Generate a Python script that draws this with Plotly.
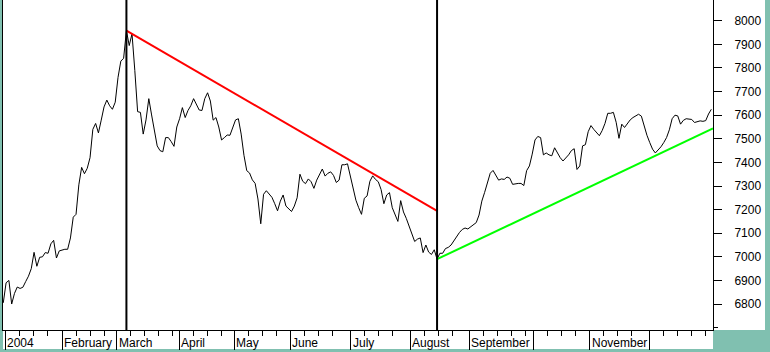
import plotly.graph_objects as go

# ---- data ----
close = [
    6805, 6890, 6900, 6800, 6845, 6872, 6866, 6871, 6895, 6918,
    6950, 7019, 6960, 6998, 7000, 7018, 7015, 7055, 7070, 6995,
    7025, 7030, 7032, 7032, 7080, 7168, 7180, 7305, 7379, 7352,
    7375, 7420, 7540, 7565, 7525, 7579, 7635, 7664, 7640, 7625,
    7655, 7760, 7829, 7841, 7958, 7895, 7945, 7790, 7615, 7612,
    7520, 7580, 7670, 7601, 7532, 7470, 7450, 7445, 7505, 7505,
    7488, 7468, 7550, 7585, 7632, 7590, 7620, 7640, 7670, 7648,
    7622, 7620, 7670, 7695, 7660, 7579, 7590, 7550, 7495, 7505,
    7516, 7515, 7550, 7580, 7585, 7520, 7430, 7365, 7355, 7326,
    7311, 7245, 7140, 7265, 7280, 7268, 7252, 7225, 7195, 7236,
    7262, 7215, 7205, 7192, 7215, 7250, 7350, 7320, 7310, 7330,
    7318, 7290, 7325, 7346, 7372, 7342, 7354, 7360, 7345, 7315,
    7325, 7390, 7390, 7394, 7345, 7290, 7240, 7208, 7180, 7248,
    7258, 7320, 7343, 7328, 7318, 7285, 7225, 7262, 7272, 7208,
    7177, 7150, 7238, 7190, 7163, 7130, 7098, 7065, 7075, 7080,
    7018, 7050, 7020, 7010, 7030, 6990, 7015, 7015, 7035, 7040,
    7050, 7068, 7085, 7103, 7116, 7122, 7118, 7126, 7137, 7145,
    7177, 7236, 7273, 7310, 7354, 7366, 7345, 7325, 7330, 7328,
    7338, 7333, 7307, 7310, 7311, 7311, 7302, 7365, 7385, 7435,
    7495, 7510, 7505, 7432, 7440, 7432, 7428, 7462, 7440, 7420,
    7406, 7418, 7432, 7450, 7458, 7370, 7385, 7470, 7475, 7530,
    7556, 7540, 7524, 7513, 7535, 7565, 7608, 7608, 7612, 7570,
    7502, 7562, 7548, 7565, 7580, 7590, 7597, 7604, 7596, 7553,
    7515, 7484, 7456, 7440, 7452, 7466, 7484, 7505, 7538, 7585,
    7600, 7597, 7562, 7578, 7585, 7582, 7582, 7569, 7573, 7576,
    7574, 7577, 7605, 7625,
]
days = list(range(len(close)))

month_labels = ["2004", "February", "March", "April", "May", "June", "July",
                "August", "September", "", "November", ""]
month_start_day = [0.7, 21, 40.6, 62.9, 82.5, 102.5, 124.2, 145.4, 166.5,
                   189.4, 209.6, 230.8]
last_day = 253.6

y_tick_values = list(range(6700, 8001, 100))
y_tick_labels = [""] + [str(v) for v in range(6800, 8001, 100)]

resistance_days = [44, 155]
resistance_values = [7958, 7195]
support_days = [155, 253.6]
support_values = [6990, 7544]

# ---- derived ----
peak_day = max(range(len(close)), key=lambda i: close[i])
trough_day = min(range(peak_day, len(close)), key=lambda i: close[i])

minor_x = []
bounds = month_start_day + [last_day]
for m, n in zip(bounds[:-1], bounds[1:]):
    t = m + 5
    while t < n - 2:
        minor_x.append(t)
        t += 5

minor_y = [v + 50 for v in range(6650, 8050, 100)]

FONT = "Liberation Sans, Arial, sans-serif"
TEAL = "#80C0B0"

fig = go.Figure()
fig.add_trace(go.Scatter(x=days, y=close, mode="lines",
                         line=dict(color="black", width=1), hoverinfo="skip"))
fig.add_trace(go.Scatter(x=resistance_days, y=resistance_values, mode="lines",
                         line=dict(color="#FF0000", width=2), hoverinfo="skip"))
fig.add_trace(go.Scatter(x=support_days, y=support_values, mode="lines",
                         line=dict(color="#00FF00", width=2), hoverinfo="skip"))

shapes = [
    # white y-label panel on right
    dict(type="rect", xref="paper", yref="paper", x0=1, x1=1 + 52 / 710,
         y0=0, y1=1, fillcolor="white", line=dict(width=0), layer="below"),
    # white x-label strip at bottom
    dict(type="rect", xref="paper", yref="paper", x0=0, x1=1,
         y0=-19 / 330, y1=0, fillcolor="white", line=dict(width=0), layer="below"),
]
for d in (peak_day, trough_day):
    shapes.append(dict(type="line", xref="x", yref="paper", x0=d, x1=d,
                       y0=0, y1=1, line=dict(color="black", width=2)))

annotations = []
for lab, d in zip(month_labels, month_start_day):
    if lab:
        annotations.append(dict(x=d, xref="x", y=0, yref="paper", text=lab,
                                showarrow=False, xanchor="left", yanchor="top",
                                xshift=0, yshift=-4,
                                font=dict(family=FONT, size=12, color="black")))

fig.update_layout(
    width=770, height=352,
    margin=dict(l=3, r=57, t=0, b=22, pad=0),
    paper_bgcolor=TEAL, plot_bgcolor="white",
    showlegend=False,
    shapes=shapes, annotations=annotations,
    xaxis=dict(range=[-0.1, last_day], showgrid=False, zeroline=False,
               showline=True, linecolor="black", linewidth=1, mirror=True,
               tickmode="array", tickvals=month_start_day, showticklabels=False,
               ticks="outside", ticklen=19, tickcolor="black", tickwidth=1,
               minor=dict(tickmode="array", tickvals=minor_x, ticks="outside",
                          ticklen=5, tickcolor="black", tickwidth=1, showgrid=False)),
    yaxis=dict(range=[6690, 8088], side="right", showgrid=False, zeroline=False,
               showline=True, linecolor="black", linewidth=1, mirror=True,
               tickmode="array", tickvals=y_tick_values, ticktext=y_tick_labels,
               ticks="outside", ticklen=8, tickcolor="black", tickwidth=1,
               ticklabelstandoff=10,
               tickfont=dict(family=FONT, size=12, color="black"),
               minor=dict(tickmode="array", tickvals=minor_y, ticks="outside",
                          ticklen=4, tickcolor="black", tickwidth=1, showgrid=False)),
)

fig.write_html("out.html")
